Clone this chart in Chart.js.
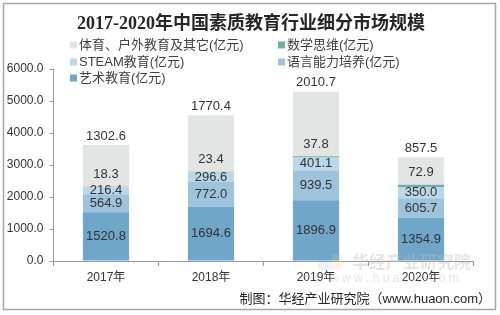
<!DOCTYPE html>
<html>
<head>
<meta charset="utf-8">
<script src="https://cdn.jsdelivr.net/npm/chart.js@4/dist/chart.umd.min.js"></script>
<style>
  body { margin: 0; background: #fff; }
  #wrap { width: 500px; height: 315px; position: relative; }
</style>
</head>
<body>
<div id="wrap"><canvas id="grafico" width="500" height="315"></canvas></div>
<script>
// dados
const categorias = ['2017年', '2018年', '2019年', '2020年'];
const arte = [1520.8, 1694.6, 1896.9, 1354.9];
const linguagem = [564.9, 772.0, 939.5, 605.7];
const steam = [216.4, 296.6, 401.1, 350.0];
const matematica = [18.3, 23.4, 37.8, 72.9];
const esportes = [1302.6, 1770.4, 2010.7, 857.5];
const ticksY = [0, 1000, 2000, 3000, 4000, 5000, 6000];

const titulo = '2017-2020年中国素质教育行业细分市场规模';
const rodape = '制图：华经产业研究院（www.huaon.com）';

const fonte = '"Liberation Sans", "Noto Sans CJK SC", sans-serif';

// legenda desenhada à mão (duas colunas como no original)
const posLegenda = [
  { ds: 4, x: 70, y: 45 },
  { ds: 3, x: 278, y: 45 },
  { ds: 2, x: 70, y: 62 },
  { ds: 1, x: 278, y: 62 },
  { ds: 0, x: 70, y: 78 },
];

const extras = {
  id: 'extras',
  beforeDraw(chart) {
    const c = chart.ctx;
    c.save();
    c.fillStyle = '#fff';
    c.fillRect(0, 0, chart.width, chart.height);
    // moldura
    c.strokeStyle = '#a6a6a6';
    c.lineWidth = 1.5;
    c.strokeRect(3.5, 3.5, 492, 306);
    // título
    c.fillStyle = '#262626';
    c.font = 'bold 18px "Liberation Serif", "Noto Sans CJK SC", serif';
    c.textAlign = 'center';
    c.textBaseline = 'middle';
    c.fillText(titulo, 251, 24);
    // legenda
    c.font = '13px ' + fonte;
    c.textAlign = 'left';
    posLegenda.forEach(p => {
      const ds = chart.data.datasets[p.ds];
      c.fillStyle = ds.backgroundColor;
      c.fillRect(p.x, p.y - 3.5, 7, 7);
      c.fillStyle = '#404040';
      c.fillText(ds.label, p.x + 9, p.y);
    });
    // rodapé
    c.font = '13px ' + fonte;
    c.fillStyle = '#262626';
    c.textAlign = 'right';
    c.fillText(rodape, 491, 299);
    c.restore();
  },
  afterDatasetsDraw(chart) {
    const c = chart.ctx;
    c.save();
    // marca d'água por cima das barras
    c.textAlign = 'left';
    c.textBaseline = 'middle';
    c.fillStyle = 'rgba(120,170,220,0.15)';
    c.fillRect(318, 254, 14, 16);
    c.fillStyle = 'rgba(245,210,120,0.2)';
    c.fillRect(332, 254, 10, 16);
    c.font = 'bold 17px "Noto Sans CJK SC", sans-serif';
    c.fillStyle = 'rgba(190,190,190,0.4)';
    c.fillText('华经产业研究院', 352, 262);
    c.font = '12px ' + fonte;
    c.fillText('w w w . h u a o n . c o m', 330, 279);
    // rótulos
    c.font = '13px ' + fonte;
    c.fillStyle = '#333';
    c.textAlign = 'center';
    chart.data.datasets.forEach((ds, i) => {
      chart.getDatasetMeta(i).data.forEach((el, j) => {
        const txt = ds.data[j].toFixed(1);
        let y;
        if (i <= 2) y = (el.y + el.base) / 2;
        else if (i === 3) y = el.y - 12;
        else y = el.y - 9;
        c.fillText(txt, el.x, y);
      });
    });
    c.restore();
  }
};

const ctx = document.getElementById('grafico').getContext('2d');

const grafico = new Chart(ctx, {
  type: 'bar',
  data: {
    labels: categorias,
    datasets: [
      { label: '艺术教育(亿元)', data: arte, backgroundColor: '#6fa6c9' },
      { label: '语言能力培养(亿元)', data: linguagem, backgroundColor: '#9dc3dd' },
      { label: 'STEAM教育(亿元)', data: steam, backgroundColor: '#bcd7e9' },
      { label: '数学思维(亿元)', data: matematica, backgroundColor: '#6fada8' },
      { label: '体育、户外教育及其它(亿元)', data: esportes, backgroundColor: '#e3e4e4' },
    ],
  },
  options: {
    responsive: false,
    animation: false,
    events: [],
    datasets: {
      bar: { barPercentage: 0.44, categoryPercentage: 1, borderWidth: 0 }
    },
    layout: { padding: { top: 69, left: 0, right: 26.5, bottom: 0 } },
    plugins: {
      legend: { display: false },
      title: { display: false },
      tooltip: { enabled: false },
    },
    scales: {
      x: {
        stacked: true,
        afterFit(s) { s.height = 54; },
        grid: { display: true, drawOnChartArea: false, offset: true, tickLength: 5, color: '#999' },
        border: { display: true, color: '#999' },
        ticks: { color: '#333', font: { size: 12, family: fonte }, padding: 4 },
      },
      y: {
        stacked: true,
        min: 0,
        max: 6000,
        afterFit(s) { s.width = 53.5; },
        afterBuildTicks(s) { s.ticks = ticksY.map(v => ({ value: v })); },
        grid: { display: true, drawOnChartArea: false, tickLength: 4, color: '#999' },
        border: { display: true, color: '#999' },
        ticks: {
          color: '#333',
          font: { size: 12, family: fonte },
          padding: 6,
          callback: v => v.toFixed(1),
        },
      },
    },
  },
  plugins: [extras],
});
</script>
</body>
</html>
